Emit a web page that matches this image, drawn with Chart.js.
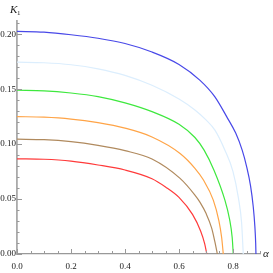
<!DOCTYPE html>
<html>
<head>
<meta charset="utf-8">
<script src="https://cdn.jsdelivr.net/npm/chart.js@4.4.1/dist/chart.umd.min.js"></script>
<style>
  html, body { margin: 0; padding: 0; background: #fff; }
  #wrap { width: 273px; height: 273px; }
</style>
</head>
<body>
<div id="wrap"><canvas id="k1chart" width="273" height="273"></canvas></div>
<script>
// K1 versus alpha, one curve per parameter value
const alphaBlue = [0, 0.1, 0.2, 0.3, 0.4, 0.5, 0.6, 0.678, 0.733, 0.777, 0.81, 0.834, 0.85, 0.865, 0.875, 0.881, 0.884, 0.885];
const kBlue = [0.2025, 0.2018, 0.1995, 0.1963, 0.1915, 0.1838, 0.1725, 0.158, 0.143, 0.1248, 0.11, 0.0945, 0.08, 0.062, 0.043, 0.025, 0.01, 0];

const alphaSky = [0, 0.1, 0.2, 0.3, 0.4, 0.5, 0.6, 0.659, 0.7, 0.733, 0.77, 0.8, 0.82, 0.832, 0.838];
const kSky = [0.1745, 0.174, 0.1722, 0.1685, 0.1625, 0.1535, 0.141, 0.131, 0.122, 0.1127, 0.0945, 0.075, 0.051, 0.028, 0];

const alphaGreen = [0, 0.1, 0.2, 0.3, 0.4, 0.5, 0.6, 0.659, 0.693, 0.73, 0.77, 0.787, 0.797, 0.801];
const kGreen = [0.149, 0.1485, 0.1465, 0.1432, 0.1375, 0.1295, 0.118, 0.106, 0.0945, 0.076, 0.049, 0.032, 0.015, 0];

const alphaOrange = [0, 0.1, 0.2, 0.3, 0.4, 0.5, 0.604, 0.659, 0.69, 0.727, 0.748, 0.758, 0.764];
const kOrange = [0.125, 0.1245, 0.1228, 0.1195, 0.1145, 0.1065, 0.0915, 0.078, 0.0675, 0.049, 0.03, 0.015, 0];

const alphaBrown = [0, 0.1, 0.2, 0.3, 0.4, 0.5, 0.604, 0.659, 0.678, 0.7, 0.721, 0.733, 0.742];
const kBrown = [0.1045, 0.104, 0.1022, 0.0988, 0.094, 0.0865, 0.0688, 0.0536, 0.047, 0.037, 0.0236, 0.011, 0];

const alphaRed = [0, 0.1, 0.2, 0.3, 0.4, 0.5, 0.55, 0.6, 0.65, 0.68, 0.695, 0.703];
const kRed = [0.0866, 0.0862, 0.0845, 0.081, 0.0764, 0.0685, 0.061, 0.0515, 0.036, 0.021, 0.0095, 0];

const xTicks = [0, 0.2, 0.4, 0.6, 0.8];
const yTicks = [0, 0.05, 0.1, 0.15, 0.2];

const toPoints = (xs, ys) => xs.map((x, i) => ({ x: x, y: ys[i] }));

const curve = (xs, ys, color) => ({
  data: toPoints(xs, ys),
  borderColor: color,
  borderWidth: 1.2,
  showLine: true,
  pointRadius: 0,
  cubicInterpolationMode: "monotone",
  fill: false,
});

// inward ticks and axis names, like the original plot
const innerTicks = {
  id: "innerTicks",
  afterDraw(chart) {
    const ctx = chart.ctx;
    const xs = chart.scales.x;
    const ys = chart.scales.y;
    const bottom = ys.getPixelForValue(0);
    const left = xs.getPixelForValue(0);
    ctx.save();
    ctx.strokeStyle = "#999";
    ctx.lineWidth = 1;
    for (let i = 0; i <= 18; i++) {
      let px = Math.round(xs.getPixelForValue(i * 0.05)) + 0.5;
      let len = i % 4 === 0 ? 5 : 3;
      ctx.beginPath();
      ctx.moveTo(px, bottom);
      ctx.lineTo(px, bottom - len);
      ctx.stroke();
    }
    for (let i = 0; i <= 21; i++) {
      let py = Math.round(ys.getPixelForValue(i * 0.01)) + 0.5;
      let len = i % 5 === 0 ? 5 : 2.5;
      ctx.beginPath();
      ctx.moveTo(left, py);
      ctx.lineTo(left + len, py);
      ctx.stroke();
    }
    ctx.fillStyle = "#222";
    ctx.textBaseline = "alphabetic";
    ctx.font = "italic 11px 'Liberation Serif'";
    ctx.fillText("K", 10, 13);
    ctx.font = "7px 'Liberation Serif'";
    ctx.fillText("1", 17, 15);
    ctx.font = "italic 11px 'Liberation Serif'";
    ctx.fillText("α", 263, 257);
    ctx.restore();
  },
};

let ctx = document.getElementById("k1chart").getContext("2d");
new Chart(ctx, {
  type: "scatter",
  data: {
    datasets: [
      curve(alphaRed, kRed, "#ff3a3a"),
      curve(alphaBrown, kBrown, "#b08a5e"),
      curve(alphaOrange, kOrange, "#ffa447"),
      curve(alphaGreen, kGreen, "#3ee83e"),
      curve(alphaSky, kSky, "#dceefd"),
      curve(alphaBlue, kBlue, "#4848e8"),
    ],
  },
  options: {
    responsive: false,
    animation: false,
    layout: { padding: { top: 21, right: 13, left: 0, bottom: 0 } },
    plugins: {
      legend: { display: false },
      tooltip: { enabled: false },
    },
    scales: {
      x: {
        type: "linear",
        min: 0,
        max: 0.9,
        afterBuildTicks: (scale) => {
          scale.ticks = xTicks.map((v) => ({ value: v }));
        },
        afterFit: (scale) => {
          scale.height = 19;
        },
        grid: { display: false, drawTicks: false },
        border: { display: true, color: "#999", width: 1.2 },
        ticks: {
          padding: 7,
          color: "#222",
          font: { family: "'Liberation Serif'", size: 9 },
          callback: (v) => v.toFixed(1),
          maxRotation: 0,
        },
      },
      y: {
        type: "linear",
        min: 0,
        max: 0.212,
        afterBuildTicks: (scale) => {
          scale.ticks = yTicks.map((v) => ({ value: v }));
        },
        afterFit: (scale) => {
          scale.width = 17;
        },
        grid: { display: false, drawTicks: false },
        border: { display: true, color: "#aaa", width: 1.8 },
        ticks: {
          padding: 1,
          color: "#222",
          font: { family: "'Liberation Serif'", size: 9 },
          callback: (v) => v.toFixed(2),
        },
      },
    },
  },
  plugins: [innerTicks],
});
</script>
</body>
</html>
